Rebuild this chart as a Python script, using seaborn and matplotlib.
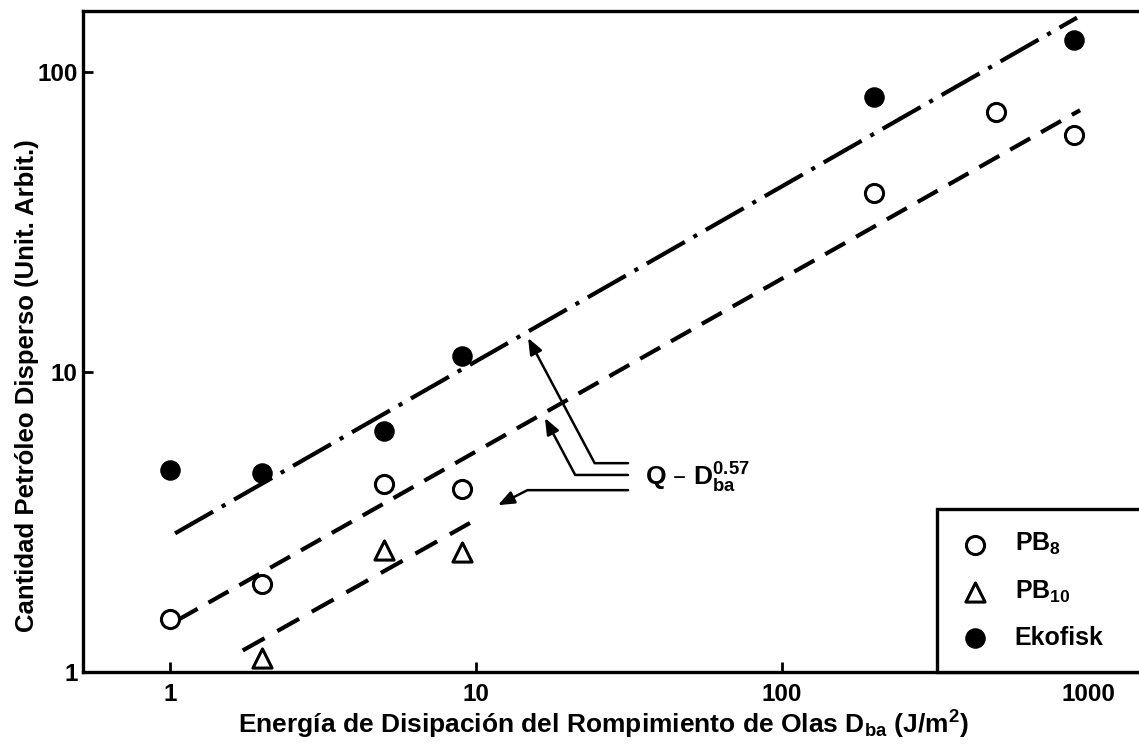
import matplotlib.pyplot as plt
import seaborn as sns
from matplotlib.ticker import NullLocator

# -----------------------------
# DATOS
# -----------------------------
pb8_D = [1, 2, 5, 9, 200, 500, 900]
pb8_Q = [1.50, 1.97, 4.23, 4.07, 39.5, 73.6, 61.7]

pb10_D = [2, 5, 9]
pb10_Q = [1.11, 2.55, 2.51]

eko_D = [1, 2, 5, 9, 200, 900]
eko_Q = [4.71, 4.60, 6.36, 11.3, 82.5, 128]

# rectas Q ~ D^0.57 (extremos leídos)
fit_eko_D = [1.04, 920]
fit_eko_Q = [2.9, 152]
fit_pb8_D = [1.06, 942]
fit_pb8_Q = [1.49, 74.7]
fit_pb10_D = [1.73, 9.56]
fit_pb10_Q = [1.18, 3.14]

x_ticks = [1, 10, 100, 1000]
y_ticks = [1, 10, 100]
legend_labels = ["PB$_8$", "PB$_{10}$", "Ekofisk"]

# -----------------------------
# ESTILO
# -----------------------------
sns.set_style("ticks")
plt.rcParams['font.family'] = ['Liberation Sans', 'DejaVu Sans']
plt.rcParams['mathtext.default'] = 'regular'
plt.rcParams['text.color'] = 'black'
plt.rcParams['axes.labelcolor'] = 'black'

fig = plt.figure(figsize=(11.39, 7.44), dpi=100)
ax = fig.add_axes([83 / 1139, 72 / 744, 1062 / 1139, 661 / 744])
ax.set_xscale('log')
ax.set_yscale('log')
ax.set_xlim(0.52, 1535)
ax.set_ylim(1, 160)

# rectas de ajuste
sns.lineplot(x=fit_eko_D, y=fit_eko_Q, ax=ax, color='black', lw=3,
             linestyle=(0, (10.5, 2.4, 1, 2.4)))
sns.lineplot(x=fit_pb8_D, y=fit_pb8_Q, ax=ax, color='black', lw=3,
             linestyle=(0, (5.5, 3)))
sns.lineplot(x=fit_pb10_D, y=fit_pb10_Q, ax=ax, color='black', lw=3,
             linestyle=(0, (6, 3.5)))

# puntos
sns.scatterplot(x=pb8_D, y=pb8_Q, ax=ax, marker='o', s=170, facecolor='white',
                edgecolor='black', linewidth=2.2, label=legend_labels[0], zorder=3)
sns.scatterplot(x=pb10_D, y=pb10_Q, ax=ax, marker='^', s=190, facecolor='white',
                edgecolor='black', linewidth=2.2, label=legend_labels[1], zorder=3)
sns.scatterplot(x=eko_D, y=eko_Q, ax=ax, marker='o', s=190, facecolor='black',
                edgecolor='black', linewidth=1, label=legend_labels[2], zorder=3)

# anotacion Q ~ D^0.57
arrow_kw = dict(arrowstyle='-|>,head_length=0.7,head_width=0.28', color='black',
                lw=1.8, shrinkA=0, shrinkB=0, mutation_scale=14)
ax.annotate('', xy=(14.8, 13.0), xytext=(31.4, 4.97),
            arrowprops=dict(connectionstyle='angle,angleA=0,angleB=-62,rad=0', **arrow_kw))
ax.annotate('', xy=(16.8, 7.03), xytext=(31.4, 4.54),
            arrowprops=dict(connectionstyle='angle,angleA=0,angleB=-62,rad=0', **arrow_kw))
ax.annotate('', xy=(11.8, 3.6), xytext=(31.4, 4.04),
            arrowprops=dict(connectionstyle='angle,angleA=0,angleB=27,rad=0', **arrow_kw))
ax.text(35.7, 4.43, "Q – $D_{ba}^{0.57}$", fontsize=19, fontweight='bold', va='center')

# ejes
ax.set_xticks(x_ticks, labels=[str(t) for t in x_ticks])
ax.set_yticks(y_ticks, labels=[str(t) for t in y_ticks])
ax.xaxis.set_minor_locator(NullLocator())
ax.yaxis.set_minor_locator(NullLocator())
ax.tick_params(axis='both', direction='in', length=7, width=2, color='black',
               labelsize=17.5, labelcolor='black')
ax.tick_params(axis='x', pad=8)
ax.tick_params(axis='y', pad=4)
for lbl in ax.get_xticklabels() + ax.get_yticklabels():
    lbl.set_fontweight('bold')
for sp in ax.spines.values():
    sp.set_linewidth(2.4)
    sp.set_color('black')

ax.set_xlabel("Energía de Disipación del Rompimiento de Olas $D_{ba}$ (J/m$^2$)",
              fontsize=19, fontweight='bold')
ax.set_ylabel("Cantidad Petróleo Disperso (Unit. Arbit.)",
              fontsize=18.5, fontweight='bold')
ax.xaxis.set_label_coords(0.49, -0.056)
ax.yaxis.set_label_coords(-0.041, 0.434)

leg = ax.legend(loc='lower left', bbox_to_anchor=(0.804, 0, 0.196, 0.3), mode='expand',
                borderaxespad=0, frameon=True, fancybox=False, edgecolor='black',
                framealpha=1, prop={'weight': 'bold', 'size': 18}, handletextpad=0.96,
                labelspacing=0.85, borderpad=0.88, handlelength=1.28)
leg.get_frame().set_linewidth(2.4)

plt.savefig("out.png", dpi=100)
plt.close()
